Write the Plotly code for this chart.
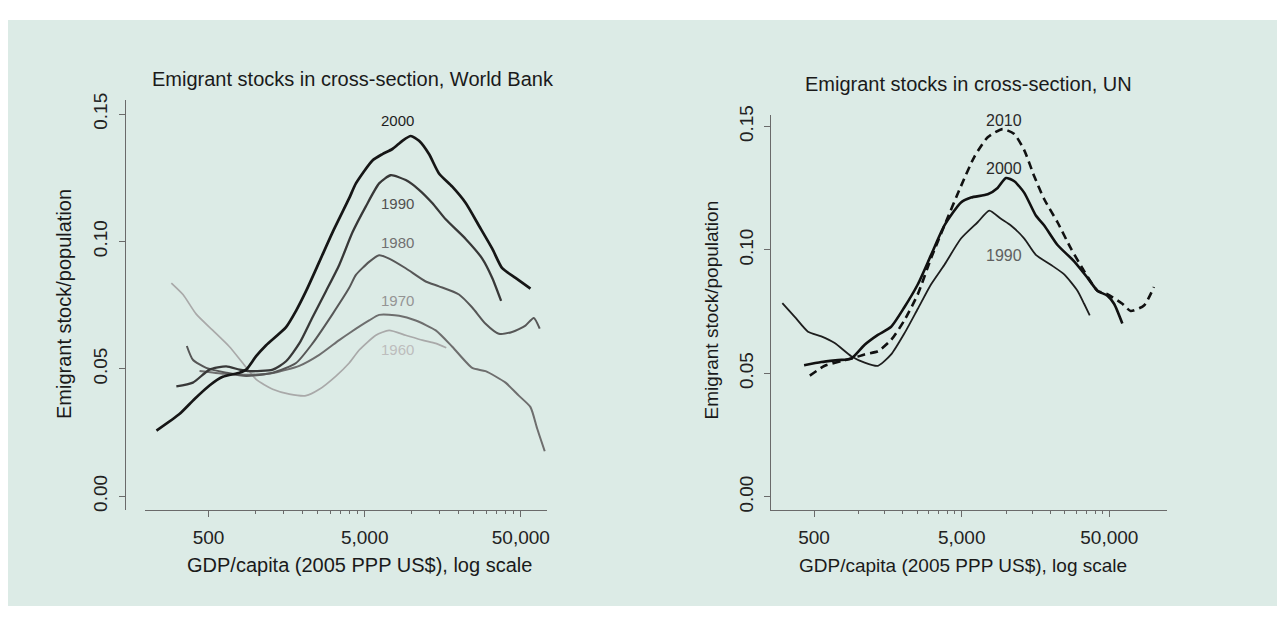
import numpy as np
import plotly.graph_objects as go

# ---------------- data: World Bank panel ----------------
wb_gdp_2000 = [232, 327, 407, 507, 617, 789, 871, 1009, 1169, 1569, 1817, 2105, 2560, 3113, 3981, 4395,
               5610, 6500, 7530, 8720, 9865, 11150, 12910, 14960, 18200, 22180, 26980, 32810, 38000, 46240, 57670]
wb_val_2000 = [0.0258, 0.0324, 0.0382, 0.0435, 0.0469, 0.0485, 0.0497, 0.055, 0.0593, 0.0664, 0.0728, 0.0805,
               0.092, 0.1036, 0.117, 0.1228, 0.1318, 0.1343, 0.1363, 0.1395, 0.1414, 0.1395, 0.1343, 0.1267,
               0.1215, 0.1151, 0.1062, 0.0972, 0.0895, 0.0857, 0.0815]

wb_gdp_1990 = [311, 397, 507, 649, 789, 914, 1288, 1569, 1907, 2318, 2825, 3436, 4178, 5090, 6190, 7350,
               9160, 11150, 13550, 16510, 22180, 28300, 32810, 37400]
wb_val_1990 = [0.0431, 0.0446, 0.0497, 0.051, 0.0497, 0.0491, 0.0497, 0.053, 0.06, 0.0703, 0.0805, 0.0908,
               0.1036, 0.1138, 0.1228, 0.126, 0.1241, 0.1203, 0.1151, 0.1087, 0.101, 0.0933, 0.0857, 0.0767]

wb_gdp_1980 = [363, 397, 483, 649, 871, 1288, 1817, 2318, 3113, 3981, 4395, 5340, 6190, 7170, 9160, 12300,
               14960, 20090, 24430, 29730, 36150, 43980, 53540, 60530, 66100]
wb_val_1980 = [0.059, 0.0536, 0.0504, 0.0485, 0.0472, 0.0485, 0.0523, 0.06, 0.0715, 0.0818, 0.0869, 0.092,
               0.0946, 0.0933, 0.0895, 0.0843, 0.0824, 0.0792, 0.0741, 0.0677, 0.0638, 0.0645, 0.067, 0.07, 0.0658]

wb_gdp_1970 = [438, 633, 914, 1321, 1907, 2560, 3436, 3981, 5340, 6190, 8310, 10620, 14260, 18200, 24430,
               29730, 39930, 48550, 57670, 63540, 71150]
wb_val_1970 = [0.0492, 0.0481, 0.0477, 0.0485, 0.0512, 0.0555, 0.0613, 0.064, 0.069, 0.0712, 0.0709, 0.069,
               0.0651, 0.0587, 0.0504, 0.0491, 0.0446, 0.0395, 0.035, 0.0267, 0.0177]

wb_gdp_1960 = [289, 343, 417, 533, 681, 828, 1009, 1288, 1647, 2105, 2560, 3273, 3981, 4613, 5896, 7170,
               9160, 11700, 14260, 16660]
wb_val_1960 = [0.0837, 0.0792, 0.0715, 0.0651, 0.0587, 0.0523, 0.0459, 0.042, 0.0401, 0.0395, 0.042, 0.0472,
               0.0523, 0.0574, 0.0632, 0.0651, 0.0632, 0.0613, 0.06, 0.0583]

wb_label_years = ["2000", "1990", "1980", "1970", "1960"]
wb_label_gdp = [8070, 8070, 8070, 8070, 8070]
wb_label_val = [0.1474, 0.1151, 0.0997, 0.0767, 0.0577]

# ---------------- data: UN panel ----------------
un_gdp_1990 = [305, 370, 455, 560, 690, 893, 1101, 1353, 1664, 2050, 2523, 3103, 3820, 4943, 6410, 7690,
               9220, 10770, 13270, 15890, 20050, 24720, 30400, 33730, 36810]
un_val_1990 = [0.0785, 0.0729, 0.0669, 0.065, 0.0623, 0.057, 0.0544, 0.0531, 0.0577, 0.0663, 0.0762, 0.0861,
               0.094, 0.1046, 0.1112, 0.1159, 0.1126, 0.1099, 0.1046, 0.098, 0.094, 0.0901, 0.0835, 0.0782, 0.0735]

un_gdp_2000 = [428, 560, 727, 893, 1101, 1353, 1664, 2050, 2523, 3103, 3820, 4943, 5780, 7500, 8750, 9960,
               11350, 13270, 15890, 18110, 22270, 28860, 35490, 41500, 48450, 53800, 61200]
un_val_2000 = [0.0533, 0.0546, 0.0554, 0.056, 0.0616, 0.0656, 0.0689, 0.0769, 0.0861, 0.098, 0.1099, 0.1192,
               0.1212, 0.1225, 0.1251, 0.1291, 0.1278, 0.1231, 0.1139, 0.1099, 0.102, 0.0954, 0.0888, 0.0835,
               0.0815, 0.0782, 0.0702]

un_gdp_2010 = [468, 591, 765, 893, 1101, 1353, 1664, 2050, 2523, 3103, 3820, 4943, 6090, 7500, 9460, 11350,
               13270, 15490, 18110, 22270, 27390, 33730, 41500, 48450, 61200, 69660, 85770, 100200]
un_val_2010 = [0.0491, 0.0531, 0.055, 0.056, 0.0577, 0.059, 0.0636, 0.0716, 0.0821, 0.0967, 0.1099, 0.1258,
               0.1377, 0.1456, 0.1489, 0.1469, 0.1403, 0.1298, 0.1205, 0.1112, 0.1007, 0.0914, 0.0835, 0.0821,
               0.0782, 0.0753, 0.0775, 0.085]

un_label_years = ["2010", "2000", "1990"]
un_label_gdp = [9700, 9700, 9700]
un_label_val = [0.1523, 0.1331, 0.0977]

x_tick_vals = [500, 5000, 50000]
x_tick_text = ["500", "5,000", "50,000"]
x_minor_vals = [1000, 1500, 2000, 2500, 3000, 3500, 4000, 4500,
                10000, 15000, 20000, 25000, 30000, 35000, 40000, 45000]
y_tick_vals = [0.0, 0.05, 0.10, 0.15]
y_tick_text = ["0.00", "0.05", "0.10", "0.15"]

# ---------------- figure ----------------
# the page body has an 8px margin, so the figure is placed at (8, 8) of the window
OFF = 8
W, H = 1272, 603
FONT = "Liberation Sans, Arial, sans-serif"
AX = "#6a6a6a"
BG = "#dcebe6"


def fx(p):
    return (p - OFF) / W


def fy(p):
    return 1 - (p - OFF) / H


fig = go.Figure()


def add_line(x, y, color, width, xa, ya, dash="solid"):
    fig.add_trace(go.Scatter(x=x, y=y, mode="lines", xaxis=xa, yaxis=ya,
                             line=dict(color=color, width=width, dash=dash, shape="spline", smoothing=0.6),
                             showlegend=False, hoverinfo="skip"))


add_line(wb_gdp_1960, wb_val_1960, "#a9a9a9", 1.7, "x", "y")
add_line(wb_gdp_1970, wb_val_1970, "#6e6e6e", 2.0, "x", "y")
add_line(wb_gdp_1980, wb_val_1980, "#575757", 2.0, "x", "y")
add_line(wb_gdp_1990, wb_val_1990, "#383838", 2.3, "x", "y")
add_line(wb_gdp_2000, wb_val_2000, "#161616", 2.7, "x", "y")

add_line(un_gdp_1990, un_val_1990, "#1e1e1e", 1.8, "x2", "y2")
add_line(un_gdp_2000, un_val_2000, "#111111", 2.6, "x2", "y2")
add_line(un_gdp_2010, un_val_2010, "#111111", 2.6, "x2", "y2", dash="8px,5px")


def xaxis(domain, rng, anchor):
    return dict(domain=domain, type="log", range=rng, anchor=anchor,
                showline=True, linecolor=AX, linewidth=1.2, mirror=False,
                ticks="outside", ticklen=6, tickwidth=1.2, tickcolor=AX,
                tickmode="array", tickvals=x_tick_vals, ticktext=x_tick_text,
                tickfont=dict(family=FONT, size=19, color="#222"),
                ticklabelstandoff=4,
                showgrid=False, zeroline=False, fixedrange=True,
                minor=dict(tickmode="array", tickvals=x_minor_vals, ticks="outside",
                           ticklen=3, tickwidth=1, tickcolor=AX, showgrid=False))


def yaxis(domain, rng, pos):
    return dict(domain=domain, range=rng, anchor="free", position=pos,
                showline=True, linecolor=AX, linewidth=1.2,
                ticks="outside", ticklen=6, tickwidth=1.2, tickcolor=AX,
                tickmode="array", tickvals=y_tick_vals, ticktext=y_tick_text,
                tickangle=-90, tickfont=dict(family=FONT, size=19, color="#222"),
                ticklabelstandoff=4,
                showgrid=False, zeroline=False, fixedrange=True)


annotations = []


def pa(text, xp, yp, size=19, angle=0, color="#1a1a1a"):
    annotations.append(dict(text=text, x=fx(xp), y=fy(yp), xref="paper", yref="paper",
                            showarrow=False, xanchor="center", yanchor="middle", textangle=angle,
                            font=dict(family=FONT, size=size, color=color)))


pa("Emigrant stocks in cross-section, World Bank", 354, 70, size=20)
pa("Emigrant stocks in cross-section, UN", 971, 75, size=20)
pa("GDP/capita (2005 PPP US$), log scale", 360, 566, size=20)
pa("GDP/capita (2005 PPP US$), log scale", 965, 567, size=19)
pa("Emigrant stock/population", 64, 300, size=20, angle=-90)
pa("Emigrant stock/population", 713, 306, size=19, angle=-90)

wb_label_colors = ["#1e1e1e", "#505050", "#707070", "#949494", "#bdbdbd"]
for t, gx, gy, c in zip(wb_label_years, wb_label_gdp, wb_label_val, wb_label_colors):
    annotations.append(dict(text=t, x=np.log10(gx), y=gy, xref="x", yref="y", showarrow=False,
                            xanchor="center", yanchor="middle",
                            font=dict(family=FONT, size=15, color=c)))
un_label_colors = ["#2a2a2a", "#2a2a2a", "#606060"]
for t, gx, gy, c in zip(un_label_years, un_label_gdp, un_label_val, un_label_colors):
    annotations.append(dict(text=t, x=np.log10(gx), y=gy, xref="x2", yref="y2", showarrow=False,
                            xanchor="center", yanchor="middle",
                            font=dict(family=FONT, size=16, color=c)))

fig.update_layout(
    width=W, height=H, margin=dict(l=0, r=0, t=0, b=0),
    paper_bgcolor="white", plot_bgcolor="rgba(0,0,0,0)",
    showlegend=False,
    xaxis=xaxis([fx(145), fx(548)], [2.290, 4.865], "y"),
    yaxis=yaxis([fy(510), fy(92)], [-0.00538, 0.1554], fx(125)),
    xaxis2=xaxis([fx(772), fx(1170)], [2.402, 5.091], "y2"),
    yaxis2=yaxis([fy(510), fy(107)], [-0.00528, 0.1546], fx(772)),
    annotations=annotations,
    shapes=[dict(type="rect", xref="paper", yref="paper", x0=0, x1=1,
                 y0=fy(608), y1=fy(10), fillcolor=BG, line=dict(width=0), layer="below")],
)

fig.write_html("out.html")
